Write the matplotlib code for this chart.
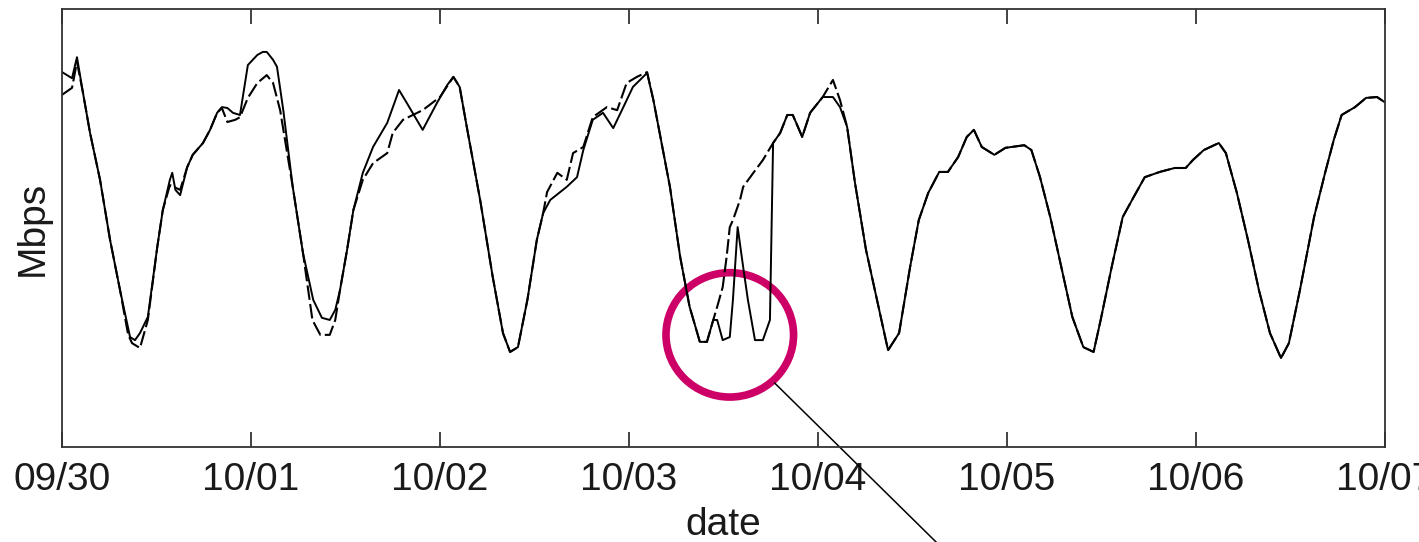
import matplotlib.pyplot as plt
from matplotlib.patches import Ellipse

plt.rcParams['font.family'] = ['Liberation Sans', 'DejaVu Sans']

# hours since 09/30 00:00, traffic (Mbps, arbitrary scale)
solid_h = [0, 1.27, 1.9, 2.67, 3.56, 4.83, 6.1, 7.37, 8.64, 9.27, 9.9, 10.9, 12.1, 12.8,
           13.7, 14.0, 14.4, 15.0, 15.9, 16.6, 17.9, 18.8, 19.7, 20.3, 21.0, 21.7, 22.6,
           23.6, 24.8, 25.5, 26.0, 26.8, 27.3, 28.1, 29.3, 30.6, 31.9, 33.0, 34.0, 34.7,
           35.3, 36.2, 37.0, 38.2, 39.5, 41.3, 42.8, 43.8, 45.8, 47.6, 48.9, 49.7, 50.5,
           51.4, 53.1, 54.7, 56.0, 56.9, 57.9, 59.1, 60.3, 61.1, 62.0, 64.1, 65.4, 66.2,
           67.4, 68.7, 70.0, 71.1, 72.5, 74.3, 75.1, 75.9, 77.2, 78.5, 79.7, 81.0, 81.9,
           82.7, 83.2, 83.9, 84.8, 85.2, 85.8, 86.5, 87.1, 88.0, 89.0, 89.9, 90.3, 91.2,
           92.1, 92.8, 94.0, 95.0, 96.6, 97.9, 98.8, 99.7,
           100.7, 102.1, 103.5, 104.9, 106.3, 107.7, 108.8, 110.0, 111.4, 112.5, 113.8,
           114.9, 115.8, 116.8, 118.4, 119.8, 122.2, 123.1, 124.2, 125.5, 126.9, 128.3,
           129.7, 131.0, 131.9, 133.3, 134.7, 136.1, 137.5, 139.4, 141.3, 142.7, 143.6,
           145.0, 146.9, 147.8, 149.2, 150.6, 152.0, 153.4, 154.8, 155.8, 157.2, 159.0,
           160.4, 161.5, 162.5, 164.2, 165.6, 167.0, 167.9]
solid_v = [85.6, 84.2, 89.0, 80.8, 71.7, 61.0, 47.3, 35.8, 25.1, 24.4, 26.0, 29.7, 45.7, 54.1,
           61.0, 62.6, 58.7, 57.5, 63.9, 66.7, 69.4, 72.4, 76.3, 77.6, 77.4, 76.3, 75.8,
           87.2, 89.5, 90.2, 90.2, 88.4, 86.8, 76.9, 59.4, 44.3, 33.6, 29.5, 29.0, 31.3,
           35.8, 45.0, 54.1, 62.6, 68.5, 74.0, 81.5, 78.5, 72.4, 78.5, 82.6, 84.5, 82.2,
           73.1, 56.4, 38.8, 26.0, 21.7, 22.8, 33.6, 47.3, 53.4, 56.4, 59.4, 61.6, 67.8,
           74.7, 76.3, 72.8, 76.9, 82.2, 85.4, 79.2, 71.7, 59.4, 43.4, 32.0, 24.0, 24.0,
           29.0, 29.0, 24.4, 25.1, 33.6, 50.2, 41.1, 33.6, 24.4, 24.4, 29.0, 69.4, 71.7,
           75.8, 75.8, 70.8, 76.3, 79.9, 79.9, 77.6, 73.1,
           60.3, 45.0, 33.6, 22.1, 26.0, 41.1, 51.8, 58.0, 62.8, 62.8, 66.2,
           70.8, 72.4, 68.5, 66.7, 68.3, 68.9, 67.8, 61.6, 52.5, 41.1, 29.7,
           22.8, 21.7, 29.0, 41.1, 52.5, 57.1, 61.6, 62.8, 63.7, 63.7, 65.5,
           67.8, 69.4, 67.1, 58.0, 47.3, 35.8, 26.0, 20.3, 23.7, 35.8, 52.5,
           62.6, 70.1, 75.8, 77.6, 79.7, 79.9, 78.8]

# second measurement: differs until 10/04, then follows the first one
dashed_h = [0, 1.27, 1.9, 2.67, 3.56, 4.83, 6.1, 7.37, 8.4, 8.9, 9.9, 10.9, 12.1, 12.8, 13.7,
            15.0, 15.9, 16.6, 17.9, 18.8, 19.7, 20.3, 21.0, 22.0, 22.6, 23.6, 24.8, 26.0,
            26.8, 27.7, 29.3, 30.6, 31.8, 32.8, 34.0, 34.7, 35.3, 36.2, 37.0, 38.2, 39.5,
            41.3, 42.0, 43.3, 45.8, 48.0, 49.7, 50.5, 51.4, 53.1, 54.7, 56.0, 56.9, 57.9,
            59.1, 60.3, 61.1, 61.6, 62.9, 64.1, 64.9, 66.2, 67.4, 69.2, 70.5, 71.7, 73.0,
            74.3, 75.1, 75.9, 77.2, 78.5, 79.7, 81.0, 81.9, 82.7, 83.2, 83.9, 84.4, 84.8,
            85.2, 86.1, 86.5, 87.8, 89.0, 90.3, 91.2, 92.1, 92.8, 94.0, 95.0, 96.6, 97.9,
            98.8, 99.7] + solid_h[100:]
dashed_v = [80.4, 82.0, 87.9, 80.8, 71.7, 61.0, 47.3, 35.8, 25.6, 23.7, 22.6, 29.0, 45.7, 54.1,
            59.8, 58.7, 63.9, 66.7, 69.4, 72.4, 76.3, 77.4, 74.2, 74.7, 75.3, 79.7, 83.1,
            84.9, 83.1, 76.9, 59.4, 44.3, 29.0, 25.6, 25.6, 29.0, 35.8, 45.0, 54.1, 61.0,
            64.8, 67.1, 71.7, 74.7, 76.9, 79.9, 84.5, 82.2, 73.1, 56.4, 38.8, 26.0, 21.7,
            22.8, 33.6, 47.3, 53.4, 58.2, 62.6, 61.0, 67.1, 68.5, 75.3, 77.6, 76.9, 83.1,
            84.5, 85.6, 79.2, 71.7, 59.4, 43.4, 32.0, 24.0, 24.0, 29.0, 32.0, 36.5, 43.4,
            50.2, 51.8, 56.4, 59.4, 62.6, 65.5, 69.4, 71.7, 75.8, 75.8, 70.8, 76.3, 79.9,
            83.8, 79.2, 73.1] + solid_v[100:]

tick_hours = [0, 24, 48, 72, 96, 120, 144, 168]
tick_labels = ['09/30', '10/01', '10/02', '10/03', '10/04', '10/05', '10/06', '10/07']

fig = plt.figure(figsize=(14.19, 5.42), dpi=100)
ax = fig.add_axes([0.0437, 0.1753, 0.9323, 0.8081])

ax.plot(dashed_h, dashed_v, color='black', lw=1.5, linestyle=(0, (7, 2)))
ax.plot(solid_h, solid_v, color='black', lw=1.4)

ax.set_xlim(0, 168)
ax.set_ylim(0, 100)
ax.set_xticks(tick_hours)
ax.set_xticklabels(tick_labels)
ax.set_yticks([])
ax.tick_params(axis='x', direction='in', length=11, width=1.2, top=True,
               labelsize=28, pad=11, color='#222222', labelcolor='#1a1a1a')
ax.set_xlabel('date', fontsize=28, labelpad=6, color='#1a1a1a')
ax.set_ylabel('Mbps', fontsize=28, labelpad=8, color='#1a1a1a')
for s in ax.spines.values():
    s.set_linewidth(1.3)
    s.set_color('#333333')

# highlighted anomaly
ax.add_patch(Ellipse((84.8, 25.6), 16.2, 28.4, fill=False, edgecolor='#cc0066', lw=5.5))
ax.plot([90.5, 111.0], [14.6, -21.7], color='black', lw=1.1, clip_on=False)

fig.savefig('out.png')
